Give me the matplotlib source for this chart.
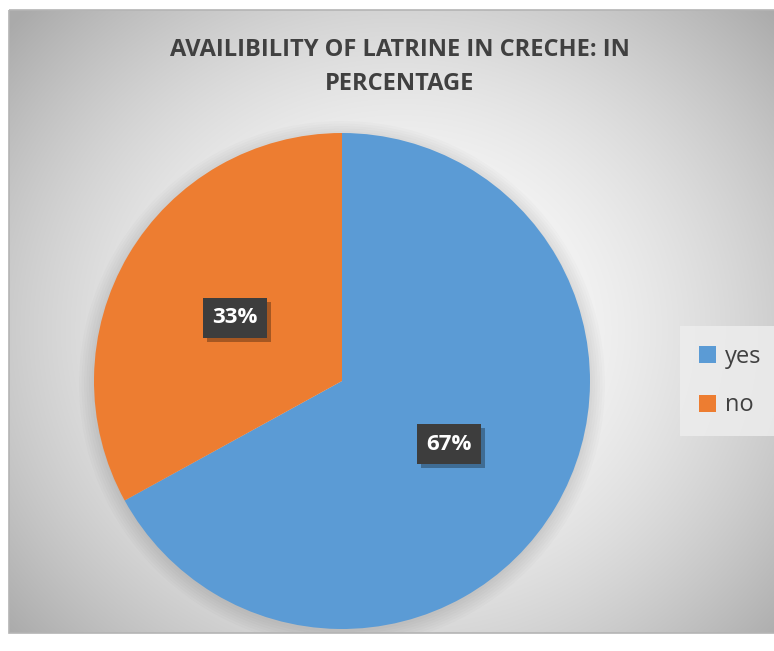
import matplotlib
matplotlib.use('Agg')
import matplotlib.pyplot as plt
import matplotlib.patheffects as pe
import numpy as np
from matplotlib.patches import Circle, Rectangle

plt.rcParams['font.family'] = ['Open Sans', 'DejaVu Sans']

title = 'AVAILIBILITY OF LATRINE IN CRECHE: IN\nPERCENTAGE'
labels = ['yes', 'no']
values = [67, 33]
colors = ['#5B9BD5', '#ED7D31']

W, H = 774, 651
fig = plt.figure(figsize=(W / 100, H / 100), dpi=100)
fig.patch.set_facecolor('white')

# pie placement in pixels
cx, cy, rad = 342, 381, 248

# chart area with radial gradient
x0, y0, x1, y1 = 9, 10, 790, 633
bg = fig.add_axes([0, 0, 1, 1], zorder=0)
bg.set_xlim(0, W)
bg.set_ylim(H, 0)
bg.axis('off')
yy, xx = np.mgrid[y0:y1, x0:x1]
r = np.hypot((xx - 400) / 430.0, (yy - 330) / 390.0)
shade = 1.0 - 0.24 * np.clip(r, 0, 1.2) ** 1.8
img = np.dstack([shade, shade, shade])
bg.imshow(img, extent=[x0, x1, y1, y0], interpolation='bilinear', aspect='auto')
frame = Rectangle((x0, y0), x1 - x0, y1 - y0, fill=False,
                  edgecolor='#b4b4b4', linewidth=1.2, zorder=3)
bg.add_patch(frame)

# soft shadow under the pie, kept inside the chart area
clip = Rectangle((x0, y0), x1 - x0, y1 - y0, transform=bg.transData)
for k in range(7):
    c = Circle((cx, cy + 3), rad + 2.5 * k, color='black', alpha=0.016, linewidth=0, zorder=1)
    bg.add_patch(c)
    c.set_clip_path(clip)

fig.text(400 / W, 1 - 67 / H, title, ha='center', va='center', fontsize=17,
         fontweight='bold', color='#404040', linespacing=1.5)

# pie
ax = fig.add_axes([(cx - rad) / W, (H - cy - rad) / H, 2 * rad / W, 2 * rad / H], zorder=1)
wedges, texts, autotexts = ax.pie(values, colors=colors, startangle=90, counterclock=False,
                                  autopct='%d%%', pctdistance=0.5, radius=1.0,
                                  wedgeprops=dict(linewidth=0))
ax.set_xlim(-1, 1)
ax.set_ylim(-1, 1)
ax.set_aspect('equal')
ax.axis('off')

for t in autotexts:
    t.set_color('white')
    t.set_fontsize(16)
    t.set_fontweight('bold')
    t.set_zorder(5)
    t.set_bbox(dict(boxstyle='square,pad=0.42', facecolor='#3d3d3d', edgecolor='none'))
    t.get_bbox_patch().set_path_effects([
        pe.SimplePatchShadow(offset=(3, -3), shadow_rgbFace='black', alpha=0.3),
        pe.Normal()])

leg = fig.legend(wedges, labels, loc='center left', bbox_to_anchor=(668 / W, 1 - 381 / H),
                 frameon=True, fontsize=17, handlelength=0.75, handleheight=0.75,
                 handletextpad=0.35, labelspacing=1.05, borderpad=0.8, fancybox=False,
                 labelcolor='#404040')
leg.get_frame().set_facecolor('#ededed')
leg.get_frame().set_edgecolor('none')
leg.get_frame().set_alpha(0.85)

fig.savefig('out.png', dpi=100)
